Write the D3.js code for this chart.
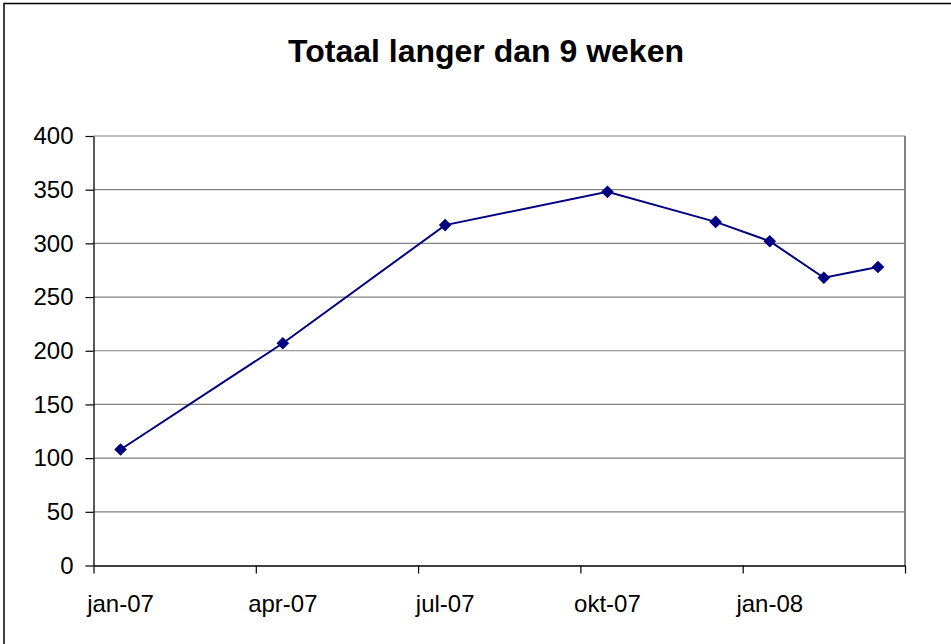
<!DOCTYPE html>
<html>
<head>
<meta charset="utf-8">
<script src="https://cdn.jsdelivr.net/npm/d3@7"></script>
<style>
  html, body { margin: 0; padding: 0; background: #fff; }
  svg { display: block; }
  text { font-family: Arial, "Liberation Sans", sans-serif; }
</style>
</head>
<body>
<svg id="chart" width="951" height="644"></svg>
<script>
// ---- data ----
const title = "Totaal langer dan 9 weken";
const monthSlots = ["jan-07","feb-07","mrt-07","apr-07","mei-07","jun-07","jul-07","aug-07","sep-07","okt-07","nov-07","dec-07","jan-08","feb-08","mrt-08"];
const categories = ["jan-07","apr-07","jul-07","okt-07","dec-07","jan-08","feb-08","mrt-08"];
const values = [108, 207, 317, 348, 320, 302, 268, 278];
const xTickLabels = ["jan-07","apr-07","jul-07","okt-07","jan-08"];
const xTickBoundaries = [0, 3, 6, 9, 12, 15];
const yTicks = [0, 50, 100, 150, 200, 250, 300, 350, 400];

// ---- layout ----
const W = 951, H = 644;
const plot = { left: 93.5, right: 905, top: 136, bottom: 565.5 };
const svg = d3.select("#chart");

// outer chart border
svg.append("rect")
  .attr("x", 4).attr("y", 3.5).attr("width", 980).attr("height", 700)
  .attr("fill", "#fff").attr("stroke", "#000").attr("stroke-width", 1.5);

// scales
const xBand = d3.scaleBand().domain(monthSlots).range([plot.left, plot.right]).padding(0);
const xIdx = d3.scaleLinear().domain([0, monthSlots.length]).range([plot.left, plot.right]);
const y = d3.scaleLinear().domain([0, 400]).range([plot.bottom, plot.top]);

// gridlines
svg.append("g")
  .selectAll("line")
  .data(yTicks.filter(d => d > 0))
  .join("line")
  .attr("x1", plot.left).attr("x2", plot.right)
  .attr("y1", d => y(d)).attr("y2", d => y(d))
  .attr("stroke", "#808080").attr("stroke-width", 1.2);

// plot area right border
svg.append("line")
  .attr("x1", plot.right).attr("x2", plot.right)
  .attr("y1", plot.top).attr("y2", plot.bottom)
  .attr("stroke", "#808080").attr("stroke-width", 2);

// y axis
const yAxis = svg.append("g")
  .attr("transform", `translate(${plot.left},0)`)
  .call(d3.axisLeft(y).tickValues(yTicks).tickSize(8).tickPadding(12).tickSizeOuter(0));
yAxis.select(".domain").attr("stroke", "#000").attr("stroke-width", 1.3);
yAxis.selectAll(".tick line").attr("stroke", "#000").attr("stroke-width", 1.2);
yAxis.selectAll("text").attr("font-size", 24).attr("fill", "#000");

// x axis tick marks at slot boundaries
const xTickAxis = svg.append("g")
  .attr("transform", `translate(0,${plot.bottom})`)
  .call(d3.axisBottom(xIdx).tickValues(xTickBoundaries).tickSize(8).tickFormat("").tickSizeOuter(0));
xTickAxis.select(".domain").attr("stroke", "#000").attr("stroke-width", 1.6);
xTickAxis.selectAll(".tick line").attr("stroke", "#000").attr("stroke-width", 1.2);

// x axis labels at slot centres
const xLabAxis = svg.append("g")
  .attr("transform", `translate(0,${plot.bottom})`)
  .call(d3.axisBottom(xBand).tickValues(xTickLabels).tickSize(0).tickPadding(29));
xLabAxis.select(".domain").remove();
xLabAxis.selectAll("text").attr("font-size", 24).attr("fill", "#000");

// line
const cx = d => xBand(d) + xBand.bandwidth() / 2;
const pts = categories.map((c, i) => [cx(c), y(values[i])]);
svg.append("path")
  .attr("d", d3.line()(pts))
  .attr("fill", "none").attr("stroke", "#000080").attr("stroke-width", 2);

// diamond markers
svg.append("g")
  .selectAll("path")
  .data(pts)
  .join("path")
  .attr("transform", d => `translate(${d[0]},${d[1]}) rotate(45)`)
  .attr("d", d3.symbol(d3.symbolSquare, 80)())
  .attr("fill", "#000080");

// title
svg.append("text")
  .attr("x", 486).attr("y", 62)
  .attr("text-anchor", "middle")
  .attr("font-size", 32).attr("font-weight", "bold")
  .attr("fill", "#000")
  .text(title);
</script>
</body>
</html>
